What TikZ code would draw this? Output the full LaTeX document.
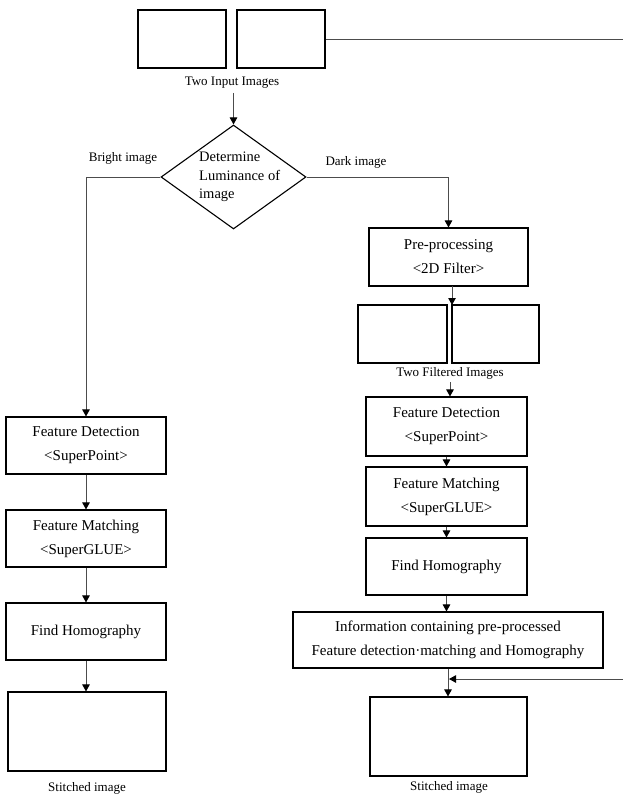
\documentclass[tikz,border=0pt]{standalone}
\usepackage{fontspec}
\setmainfont{Liberation Serif}
\usetikzlibrary{shapes.geometric,arrows.meta}
\begin{document}
\begin{tikzpicture}[x=1pt,y=-1pt,
  box/.style={draw=black,line width=1.1pt,inner sep=0pt,align=center,font=\fontsize{15}{24}\selectfont},
  img/.style={draw=black,line width=1.1pt,inner sep=0pt},
  lbl/.style={inner sep=0pt,font=\fontsize{13}{15}\selectfont},
  conn/.style={draw=black!70,line width=1pt},
  arr/.style={conn,-{Triangle[length=7pt,width=7.5pt,color=black]}}]
\useasboundingbox[fill=white] (0,0) rectangle (623,795);
% input images
\node[img,minimum width=88,minimum height=58] (I1) at (182,39) {};
\node[img,minimum width=88,minimum height=58] (I2) at (281,39) {};
\node[lbl] (inl) at (232,83) {Two Input Images};
% diamond
\node[draw=black,line width=1.1pt,diamond,inner sep=0pt,minimum width=145,minimum height=104] (dia) at (233.5,177) {};
\node[anchor=west,align=left,inner sep=0pt,font=\fontsize{14.5}{18.5}\selectfont] (diat) at (199,177) {Determine\\Luminance of\\image};
\node[lbl] (bright) at (123,158) {Bright image};
\node[lbl] (dark) at (356,162) {Dark image};
% left column
\node[box,minimum width=160,minimum height=57] (FD1) at (86,445.5) {Feature Detection\\<SuperPoint>};
\node[box,minimum width=160,minimum height=57] (FM1) at (86,538.5) {Feature Matching\\<SuperGLUE>};
\node[box,minimum width=160,minimum height=57] (FH1) at (86,631.5) {Find Homography};
\node[img,minimum width=158,minimum height=79] (ST1) at (87,731.5) {};
\node[lbl] (st1l) at (87,788) {Stitched image};
% right column
\node[box,minimum width=159,minimum height=58] (PP) at (448.5,257) {Pre-processing\\<2D Filter>};
\node[img,minimum width=89,minimum height=58] (F1) at (402.5,334) {};
\node[img,minimum width=87,minimum height=58] (F2) at (495.5,334) {};
\node[lbl] (fil) at (450,373) {Two Filtered Images};
\node[box,minimum width=161,minimum height=59] (FD2) at (446.5,426.5) {Feature Detection\\<SuperPoint>};
\node[box,minimum width=161,minimum height=59] (FM2) at (446.5,496.5) {Feature Matching\\<SuperGLUE>};
\node[box,minimum width=161,minimum height=57] (FH2) at (446.5,566.5) {Find Homography};
\node[box,minimum width=310,minimum height=56] (INFO) at (448,640) {Information containing pre-processed\\Feature detection·matching and Homography};
\node[img,minimum width=157,minimum height=79] (ST2) at (448.5,736.5) {};
\node[lbl] (st2l) at (449,787) {Stitched image};
% connectors
\coordinate (R1) at (627,39);
\coordinate (R2) at (627,679);
\draw[arr] (dia.north |- inl.south) ++(0,4) -- (dia.north);
\draw[arr] (dia.west) -- (FD1.north |- dia.west) -- (FD1.north);
\draw[arr] (dia.east) -- (PP.north |- dia.east) -- (PP.north);
\draw[arr] (452,286) -- (452,305);
\draw[arr] (fil.south) ++(0,3) -- (FD2.north -| fil.south);
\draw[arr] (FD1) -- (FM1);
\draw[arr] (FM1) -- (FH1);
\draw[arr] (FH1) -- (ST1.north -| FH1.south);
\draw[arr] (FD2) -- (FM2);
\draw[arr] (FM2) -- (FH2);
\draw[arr] (FH2.south) -- (INFO.north -| FH2.south);
\draw[arr] (INFO.south) -- (ST2.north -| INFO.south);
\draw[conn] (I2.east) -- (R1) -- (R2);
\draw[arr] (R2) -- ([xshift=1pt]INFO.south |- R2);
\end{tikzpicture}
\end{document}
